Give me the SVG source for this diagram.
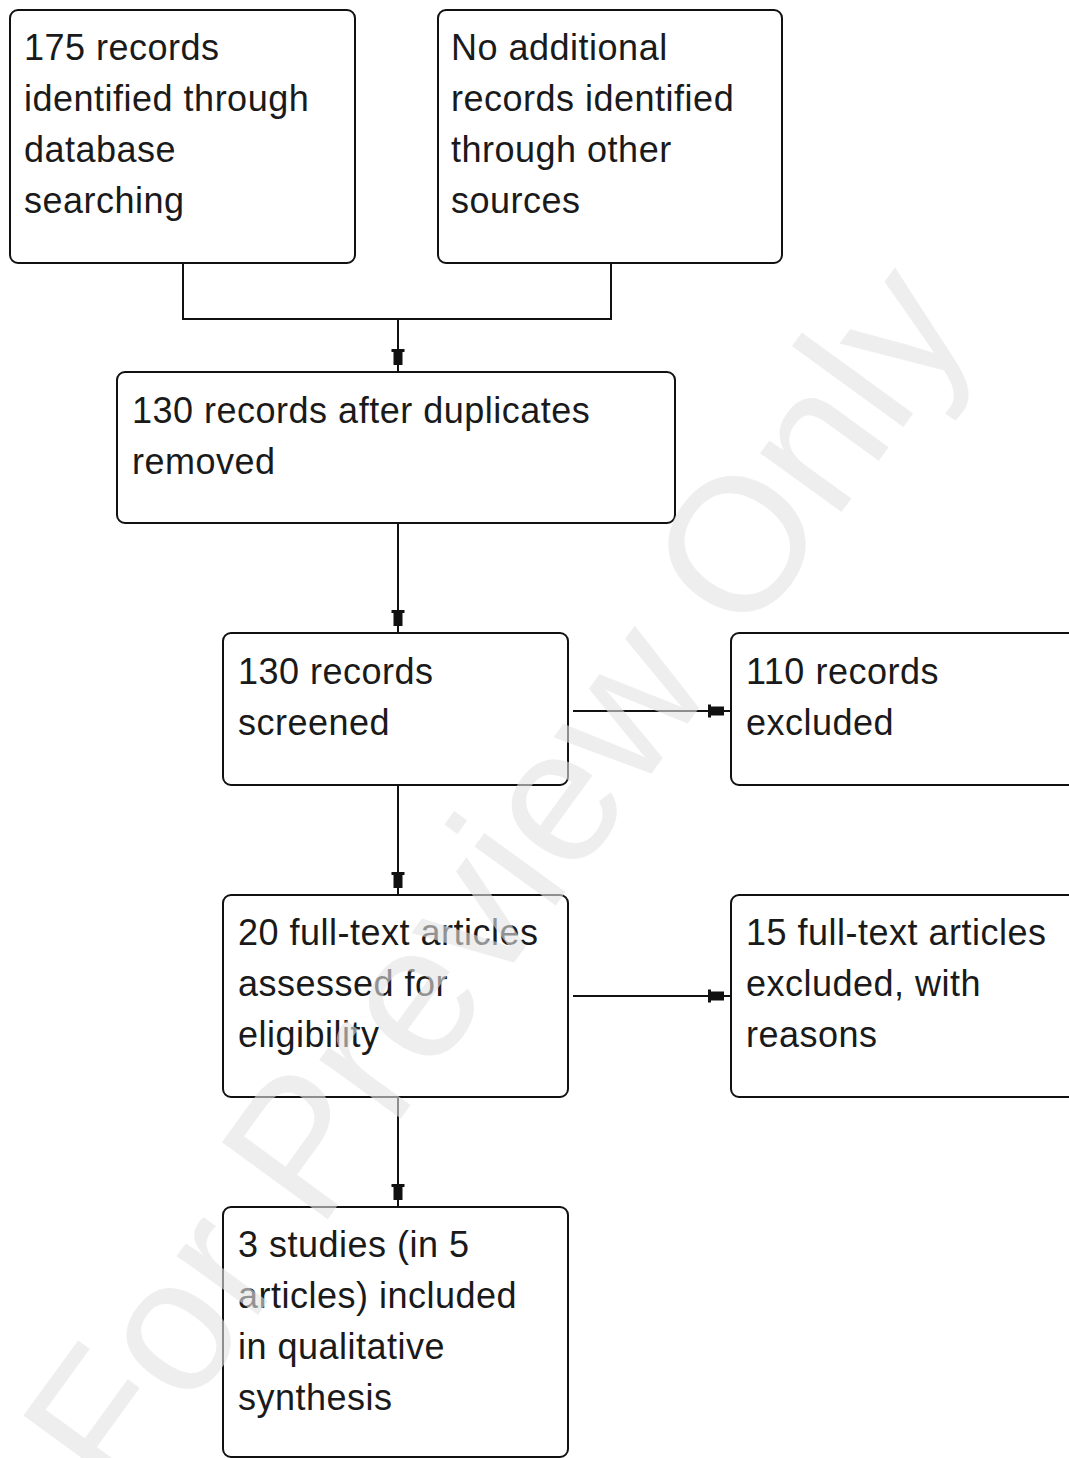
<svg xmlns="http://www.w3.org/2000/svg" width="1069" height="1458" viewBox="0 0 1069 1458">
<style>
.box{fill:#fff;stroke:#111;stroke-width:2}
.t{font-family:"Liberation Sans",Arial,sans-serif;font-size:36px;letter-spacing:0.5px;fill:#1a1a1a}
.wm{font-family:"Liberation Sans",Arial,sans-serif;font-size:190px;fill:#e2e2e2;fill-opacity:0.6}
.ln{fill:none;stroke:#111;stroke-width:2}
</style>
<defs>
<marker id="ah" markerUnits="userSpaceOnUse" markerWidth="30" markerHeight="20" refX="0" refY="0" viewBox="-25 -10 30 20" orient="auto" overflow="visible">
<path d="M-23,-6.5 L-20,-6.5 L-20,-4.5 L-7,-4.5 L-7,4.5 L-20,4.5 L-20,6.5 L-23,6.5 Z" fill="#111"/>
</marker>
</defs>
<rect width="1069" height="1458" fill="#fff"/>
<g id="connectors">
<path class="ln" d="M183,263 V319 H611 V263"/>
<path class="ln" d="M398,319 V372" marker-end="url(#ah)"/>
<path class="ln" d="M398,523 V633" marker-end="url(#ah)"/>
<path class="ln" d="M398,785 V895" marker-end="url(#ah)"/>
<path class="ln" d="M398,1097 V1207" marker-end="url(#ah)"/>
<path class="ln" d="M573,711 H731" marker-end="url(#ah)"/>
<path class="ln" d="M573,996 H731" marker-end="url(#ah)"/>
</g>
<g id="n1"><rect class="box" x="10" y="10" width="345" height="253" rx="8"/>
<text class="t" x="24" y="60">175 records</text><text class="t" x="24" y="111">identified through</text><text class="t" x="24" y="162">database</text><text class="t" x="24" y="213">searching</text></g>
<g id="n2"><rect class="box" x="438" y="10" width="344" height="253" rx="8"/>
<text class="t" x="451" y="60">No additional</text><text class="t" x="451" y="111">records identified</text><text class="t" x="451" y="162">through other</text><text class="t" x="451" y="213">sources</text></g>
<g id="n3"><rect class="box" x="117" y="372" width="558" height="151" rx="8"/>
<text class="t" x="132" y="423">130 records after duplicates</text><text class="t" x="132" y="474">removed</text></g>
<g id="n4"><rect class="box" x="223" y="633" width="345" height="152" rx="8"/>
<text class="t" x="238" y="684">130 records</text><text class="t" x="238" y="735">screened</text></g>
<g id="n5"><rect class="box" x="731" y="633" width="400" height="152" rx="8"/>
<text class="t" x="746" y="684">110 records</text><text class="t" x="746" y="735">excluded</text></g>
<g id="n6"><rect class="box" x="223" y="895" width="345" height="202" rx="8"/>
<text class="t" x="238" y="945">20 full-text articles</text><text class="t" x="238" y="996">assessed for</text><text class="t" x="238" y="1047">eligibility</text></g>
<g id="n7"><rect class="box" x="731" y="895" width="400" height="202" rx="8"/>
<text class="t" x="746" y="945">15 full-text articles</text><text class="t" x="746" y="996">excluded, with</text><text class="t" x="746" y="1047">reasons</text></g>
<g id="n8"><rect class="box" x="223" y="1207" width="345" height="250" rx="8"/>
<text class="t" x="238" y="1257">3 studies (in 5</text><text class="t" x="238" y="1308">articles) included</text><text class="t" x="238" y="1359">in qualitative</text><text class="t" x="238" y="1410">synthesis</text></g>
<text class="wm" transform="translate(120,1505) rotate(-54)">For Preview Only</text>
</svg>
